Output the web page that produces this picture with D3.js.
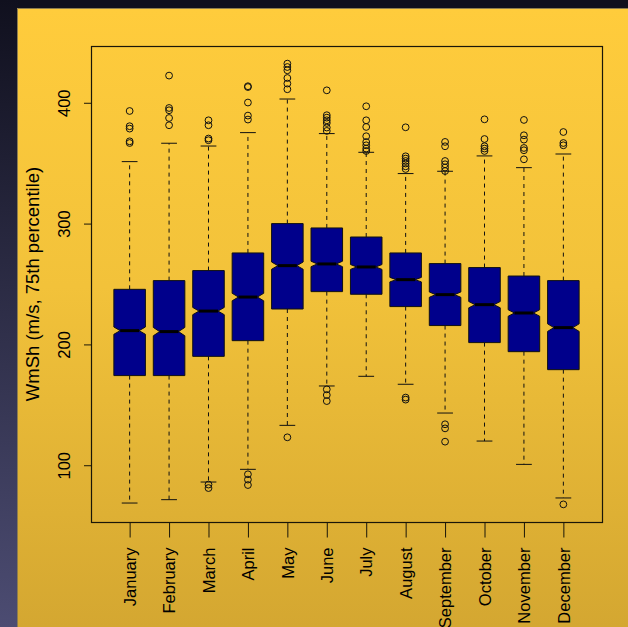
<!DOCTYPE html>
<html>
<head>
<meta charset="utf-8">
<script src="https://cdn.jsdelivr.net/npm/d3@7"></script>
<style>
  html, body { margin: 0; padding: 0; background: #11111f; }
  svg { display: block; }
</style>
</head>
<body>
<script>
// Monthly distribution of WmSh (75th percentile), notched boxplots
const months = ["January", "February", "March", "April", "May", "June",
                "July", "August", "September", "October", "November", "December"];
const q1      = [174.2, 174.2, 190.1, 203.1, 229.3, 243.7, 241.5, 231.3, 215.6, 201.5, 194.0, 179.1];
const medians = [211.4, 210.6, 227.6, 239.2, 265.2, 266.6, 264.1, 253.6, 241.2, 232.9, 226.0, 213.9];
const q3      = [245.6, 252.8, 261.1, 275.7, 300.0, 296.4, 288.9, 275.7, 266.9, 263.6, 256.6, 252.8];
const whiskerLow  = [68.7, 71.5, 86.1, 96.6, 133.0, 165.6, 173.6, 167.0, 143.2, 120.0, 100.7, 72.9];
const whiskerHigh = [351.3, 366.5, 364.2, 375.3, 403.1, 374.5, 359.0, 341.4, 343.3, 356.0, 346.3, 357.6];
const sampleSize  = [1395, 1271, 1395, 1350, 1395, 1350, 1395, 1395, 1350, 1395, 1350, 1395];
const outliers = [
  [393.2, 380.6, 378.6, 368.1, 366.7],
  [422.5, 395.7, 393.8, 387.4, 381.4],
  [385.5, 381.4, 370.4, 369.0, 84.0, 81.1],
  [413.7, 413.0, 400.2, 389.4, 386.1, 92.5, 88.1, 83.6],
  [432.4, 429.6, 426.9, 420.5, 415.9, 411.2, 123.1],
  [410.3, 389.7, 387.7, 385.5, 383.3, 379.5, 376.7, 162.8, 158.1, 153.1],
  [397.1, 385.5, 380.0, 372.3, 367.5, 364.8, 362.1, 360.1],
  [379.7, 355.7, 353.8, 351.8, 349.7, 347.4, 345.2, 156.0, 154.3],
  [367.6, 364.0, 351.8, 349.1, 346.4, 343.5, 133.9, 130.5, 119.5],
  [386.3, 370.0, 364.0, 362.1, 360.1],
  [385.8, 373.1, 369.5, 362.6, 360.7, 353.2],
  [375.8, 366.7, 364.8, 67.6]
];
const yTicks = [100, 200, 300, 400];
const yTitle = "WmSh (m/s, 75th percentile)";

const W = 628, H = 627;
const plot = { left: 91, right: 602, top: 46, bottom: 522 };
const font = "'Liberation Sans', Arial, Helvetica, sans-serif";

const svg = d3.select("body").append("svg").attr("width", W).attr("height", H);
const defs = svg.append("defs");

const sideGrad = defs.append("linearGradient").attr("id", "side")
  .attr("x1", 0).attr("y1", 0).attr("x2", 0).attr("y2", 1);
sideGrad.append("stop").attr("offset", "0%").attr("stop-color", "#10101e");
sideGrad.append("stop").attr("offset", "100%").attr("stop-color", "#4c4c72");

const panelGrad = defs.append("linearGradient").attr("id", "panel")
  .attr("x1", 0).attr("y1", 0).attr("x2", 0).attr("y2", 1);
panelGrad.append("stop").attr("offset", "0%").attr("stop-color", "#ffcc3c");
panelGrad.append("stop").attr("offset", "45%").attr("stop-color", "#f2c23a");
panelGrad.append("stop").attr("offset", "100%").attr("stop-color", "#d4a731");

// dark surround
svg.append("rect").attr("width", W).attr("height", H).attr("fill", "#10101d");
svg.append("rect").attr("x", 0).attr("y", 0).attr("width", 18).attr("height", H).attr("fill", "url(#side)");

// yellow panel
svg.append("rect").attr("x", 17).attr("y", 8).attr("width", W - 17).attr("height", H - 8)
  .attr("fill", "url(#panel)");
svg.append("path").attr("d", `M17.5,${H} V8.5 H${W}`)
  .attr("fill", "none").attr("stroke", "#8d7d4e").attr("stroke-width", 1);

// scales (R-style 4% padding around the data range)
const allVals = whiskerLow.concat(whiskerHigh, outliers.flat());
const yMin = d3.min(allVals), yMax = d3.max(allVals);
const pad = (yMax - yMin) * 0.04;
const y = d3.scaleLinear().domain([yMin - pad, yMax + pad]).range([plot.bottom, plot.top]);
const x = d3.scaleLinear().domain([0.5 - 0.48, months.length + 0.5 + 0.48]).range([plot.left, plot.right]);
const boxHalf = (x(1.4) - x(1)); // boxwex 0.8
const stapleHalf = boxHalf / 2;

const ink = "#111";

// boxes
const g = svg.append("g");
months.forEach((m, i) => {
  const cx = x(i + 1);
  const notch = 1.58 * (q3[i] - q1[i]) / Math.sqrt(sampleSize[i]);
  const nLo = y(medians[i] - notch), nHi = y(medians[i] + notch);
  const waist = boxHalf * 0.6;

  // whiskers
  g.append("line").attr("x1", cx).attr("x2", cx).attr("y1", y(q3[i])).attr("y2", y(whiskerHigh[i]))
    .attr("stroke", ink).attr("stroke-width", 1).attr("stroke-dasharray", "4,4");
  g.append("line").attr("x1", cx).attr("x2", cx).attr("y1", y(q1[i])).attr("y2", y(whiskerLow[i]))
    .attr("stroke", ink).attr("stroke-width", 1).attr("stroke-dasharray", "4,4");
  // staples
  [whiskerHigh[i], whiskerLow[i]].forEach(v => {
    g.append("line").attr("x1", cx - stapleHalf).attr("x2", cx + stapleHalf)
      .attr("y1", y(v)).attr("y2", y(v)).attr("stroke", ink).attr("stroke-width", 1);
  });

  // notched box
  const pts = [
    [cx - boxHalf, y(q1[i])], [cx - boxHalf, nLo], [cx - waist, y(medians[i])],
    [cx - boxHalf, nHi], [cx - boxHalf, y(q3[i])], [cx + boxHalf, y(q3[i])],
    [cx + boxHalf, nHi], [cx + waist, y(medians[i])], [cx + boxHalf, nLo],
    [cx + boxHalf, y(q1[i])]
  ];
  g.append("path").attr("d", d3.line()(pts) + "Z")
    .attr("fill", "#00008b").attr("stroke", ink).attr("stroke-width", 1);
  g.append("line").attr("x1", cx - waist).attr("x2", cx + waist)
    .attr("y1", y(medians[i])).attr("y2", y(medians[i]))
    .attr("stroke", "#000").attr("stroke-width", 3);

  // outliers
  g.selectAll(null).data(outliers[i]).enter().append("circle")
    .attr("cx", cx).attr("cy", d => y(d)).attr("r", 3.4)
    .attr("fill", "none").attr("stroke", ink).attr("stroke-width", 1);
});

// plot frame
svg.append("rect").attr("x", plot.left + 0.5).attr("y", plot.top + 0.5)
  .attr("width", plot.right - plot.left).attr("height", plot.bottom - plot.top)
  .attr("fill", "none").attr("stroke", "#1a1608").attr("stroke-width", 1.2);

// y axis
const yAxis = svg.append("g").attr("transform", `translate(${plot.left + 0.5},0)`)
  .call(d3.axisLeft(y).tickValues(yTicks).tickSize(7.5).tickPadding(0).tickFormat(d3.format("d")));
yAxis.select(".domain").remove();
yAxis.selectAll(".tick line").attr("stroke", "#1a1608");
yAxis.selectAll(".tick text").remove();
yAxis.selectAll(".tick").append("text")
  .attr("transform", "translate(-27,0) rotate(-90)")
  .attr("text-anchor", "middle").attr("dy", "0.35em")
  .attr("fill", "#000").style("font-family", font).style("font-size", "16.5px")
  .text(d => d);

// x axis
const xAxis = svg.append("g").attr("transform", `translate(0,${plot.bottom + 0.5})`)
  .call(d3.axisBottom(x).tickValues(d3.range(1, months.length + 1)).tickSize(15).tickFormat(""));
xAxis.select(".domain").remove();
xAxis.selectAll(".tick line").attr("stroke", "#1a1608");
xAxis.selectAll(".tick").append("text")
  .attr("transform", "translate(0,25) rotate(-90)")
  .attr("text-anchor", "end").attr("dy", "0.35em")
  .attr("fill", "#000").style("font-family", font).style("font-size", "16.5px")
  .text((d, i) => months[i]);

// y title
svg.append("text")
  .attr("transform", `translate(33,${(plot.top + plot.bottom) / 2}) rotate(-90)`)
  .attr("text-anchor", "middle").attr("dy", "0.35em")
  .attr("fill", "#000").style("font-family", font).style("font-size", "18.5px")
  .text(yTitle);
</script>
</body>
</html>
